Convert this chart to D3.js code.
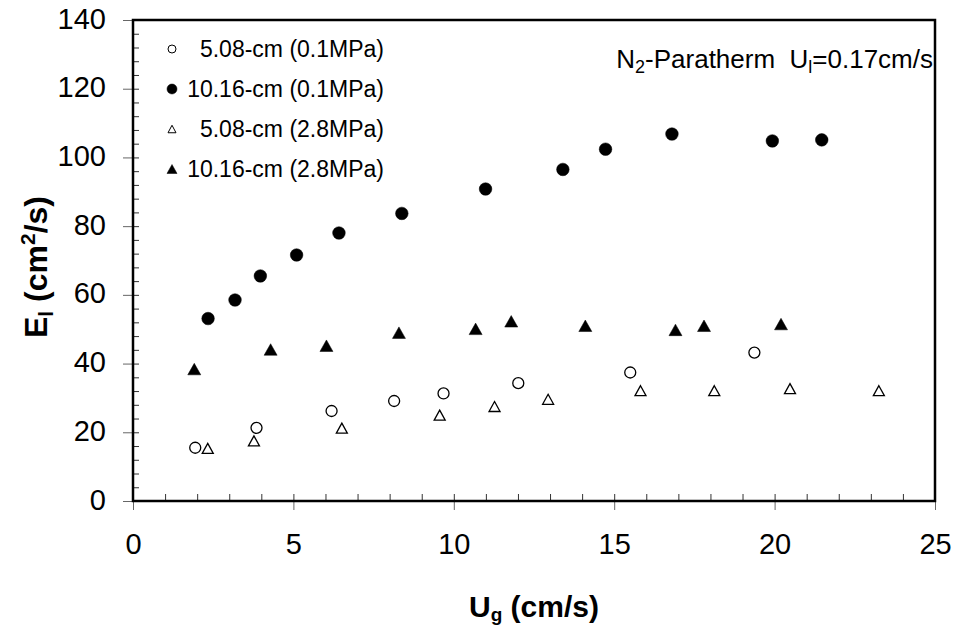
<!DOCTYPE html>
<html>
<head>
<meta charset="utf-8">
<script src="https://cdn.jsdelivr.net/npm/d3@7"></script>
<style>
  html, body { margin: 0; padding: 0; background: #fff; }
  svg { display: block; font-family: "Liberation Sans", Arial, sans-serif; }
</style>
</head>
<body>
<svg id="chart" width="956" height="626"></svg>
<script>
// ---- data ----
const ug_508_01  = [1.94, 3.85, 6.19, 8.14, 9.68, 12.01, 15.50, 19.37];
const el_508_01  = [15.5, 21.3, 26.2, 29.1, 31.3, 34.3, 37.4, 43.2];
const ug_1016_01 = [2.34, 3.18, 3.97, 5.10, 6.42, 8.38, 10.99, 13.40, 14.73, 16.80, 19.93, 21.47];
const el_1016_01 = [53.1, 58.5, 65.5, 71.6, 78.0, 83.7, 90.8, 96.5, 102.4, 106.8, 104.8, 105.1];
const ug_508_28  = [2.33, 3.77, 6.51, 9.56, 11.27, 12.94, 15.82, 18.12, 20.48, 23.25];
const el_508_28  = [15.3, 17.5, 21.2, 25.0, 27.5, 29.6, 32.1, 32.1, 32.7, 32.1];
const ug_1016_28 = [1.91, 4.29, 6.03, 8.29, 10.68, 11.79, 14.10, 16.91, 17.80, 20.20];
const el_1016_28 = [38.4, 44.1, 45.2, 49.0, 50.1, 52.3, 51.0, 49.8, 51.0, 51.5];

const seriesNames = ["5.08-cm (0.1MPa)", "10.16-cm (0.1MPa)", "5.08-cm (2.8MPa)", "10.16-cm (2.8MPa)"];
const xTicks = [0, 5, 10, 15, 20, 25];
const yTicks = [0, 20, 40, 60, 80, 100, 120, 140];

const series = [
  { name: seriesNames[0], x: ug_508_01,  y: el_508_01,  shape: "circle",   filled: false },
  { name: seriesNames[1], x: ug_1016_01, y: el_1016_01, shape: "circle",   filled: true  },
  { name: seriesNames[2], x: ug_508_28,  y: el_508_28,  shape: "triangle", filled: false },
  { name: seriesNames[3], x: ug_1016_28, y: el_1016_28, shape: "triangle", filled: true  }
];

// ---- layout ----
const L = 133, R = 935, T = 20, B = 501;
const svg = d3.select("#chart");
const x = d3.scaleLinear().domain([0, 25]).range([L, R]);
const y = d3.scaleLinear().domain([0, 140]).range([B, T]);

function markerPath(shape, filled, big) {
  if (shape === "circle") {
    const r = big ? (filled ? 6.3 : 5.5) : (filled ? 5 : 4);
    return `M${-r},0A${r},${r} 0 1,0 ${r},0A${r},${r} 0 1,0 ${-r},0Z`;
  }
  const w = big ? (filled ? 13 : 11) : (filled ? 10 : 8);
  const h = big ? (filled ? 11.5 : 10) : (filled ? 9 : 7.5);
  return `M0,${-h/2}L${w/2},${h/2}L${-w/2},${h/2}Z`;
}

const g = svg.append("g");
// x minor ticks (inside, up)
g.append("g").attr("transform", `translate(0,${B})`)
  .call(d3.axisTop(x).tickValues(d3.range(1, 25)).tickSize(7).tickFormat(""))
  .call(a => a.select(".domain").remove())
  .call(a => a.selectAll("line").attr("stroke", "#333").attr("stroke-width", 1));
// y minor ticks (inside, right)
g.append("g").attr("transform", `translate(${L},0)`)
  .call(d3.axisRight(y).tickValues(d3.range(4, 140, 4)).tickSize(6).tickFormat(""))
  .call(a => a.select(".domain").remove())
  .call(a => a.selectAll("line").attr("stroke", "#333").attr("stroke-width", 1));

// x major axis
const xa = g.append("g").attr("transform", `translate(0,${B})`)
  .call(d3.axisBottom(x).tickValues(xTicks).tickSize(9).tickPadding(0).tickFormat(d3.format("d")));
xa.select(".domain").remove();
xa.selectAll("line").attr("stroke", "#666").attr("stroke-width", 1);
xa.selectAll("text").attr("font-size", 29).attr("fill", "#000")
  .attr("dy", null).attr("y", 53)
  .attr("font-family", "Liberation Sans, Arial, sans-serif");

// y major axis
const ya = g.append("g").attr("transform", `translate(${L},0)`)
  .call(d3.axisLeft(y).tickValues(yTicks).tickSize(10).tickPadding(0).tickFormat(d3.format("d")));
ya.select(".domain").remove();
ya.selectAll("line").attr("stroke", "#666").attr("stroke-width", 1);
ya.selectAll("text").attr("font-size", 29).attr("fill", "#000")
  .attr("x", -27).attr("dy", "0.28em")
  .attr("font-family", "Liberation Sans, Arial, sans-serif");

// frame
svg.append("rect").attr("x", L).attr("y", T).attr("width", R - L).attr("height", B - T)
  .attr("fill", "none").attr("stroke", "#000").attr("stroke-width", 2.5);

// points
series.forEach(s => {
  svg.append("g").selectAll("path").data(s.x.map((v, i) => [v, s.y[i]])).join("path")
    .attr("transform", d => `translate(${x(d[0])},${y(d[1])})`)
    .attr("d", markerPath(s.shape, s.filled, true))
    .attr("fill", s.filled ? "#000" : "#fff")
    .attr("stroke", "#000")
    .attr("stroke-width", s.filled ? 0.5 : 1.3);
});

// legend
const legY = [49, 89, 129, 169];
series.forEach((s, i) => {
  svg.append("path").attr("transform", `translate(172,${legY[i]})`)
    .attr("d", markerPath(s.shape, s.filled, false))
    .attr("fill", s.filled ? "#000" : "#fff")
    .attr("stroke", "#000").attr("stroke-width", s.filled ? 0.5 : 1);
  svg.append("text").attr("x", 384).attr("y", legY[i]).attr("dy", "0.36em")
    .attr("text-anchor", "end").attr("font-size", 23).text(s.name);
});

// annotation (single line, double space kept)
const ann = svg.append("text").attr("x", 933).attr("y", 68).attr("font-size", 26)
  .attr("text-anchor", "end").style("white-space", "pre");
ann.append("tspan").text("N");
ann.append("tspan").attr("font-size", 18).attr("dy", 5).text("2");
ann.append("tspan").attr("dy", -5).text("-Paratherm  U");
ann.append("tspan").attr("font-size", 18).attr("dy", 5).text("l");
ann.append("tspan").attr("dy", -5).text("=0.17cm/s");

// x title
const xt = svg.append("text").attr("x", 534).attr("y", 617).attr("text-anchor", "middle")
  .attr("font-size", 30).attr("font-weight", "bold");
xt.append("tspan").text("U");
xt.append("tspan").attr("font-size", 19).attr("dy", 4).text("g");
xt.append("tspan").attr("dy", -4).text(" (cm/s)");

// y title
const yt = svg.append("text").attr("transform", "translate(47,267) rotate(-90)")
  .attr("text-anchor", "middle").attr("font-size", 32).attr("font-weight", "bold");
yt.append("tspan").text("E");
yt.append("tspan").attr("font-size", 21).attr("dy", 6).text("l");
yt.append("tspan").attr("dy", -6).text(" (cm");
yt.append("tspan").attr("font-size", 21).attr("dy", -12).text("2");
yt.append("tspan").attr("dy", 12).text("/s)");
</script>
</body>
</html>
